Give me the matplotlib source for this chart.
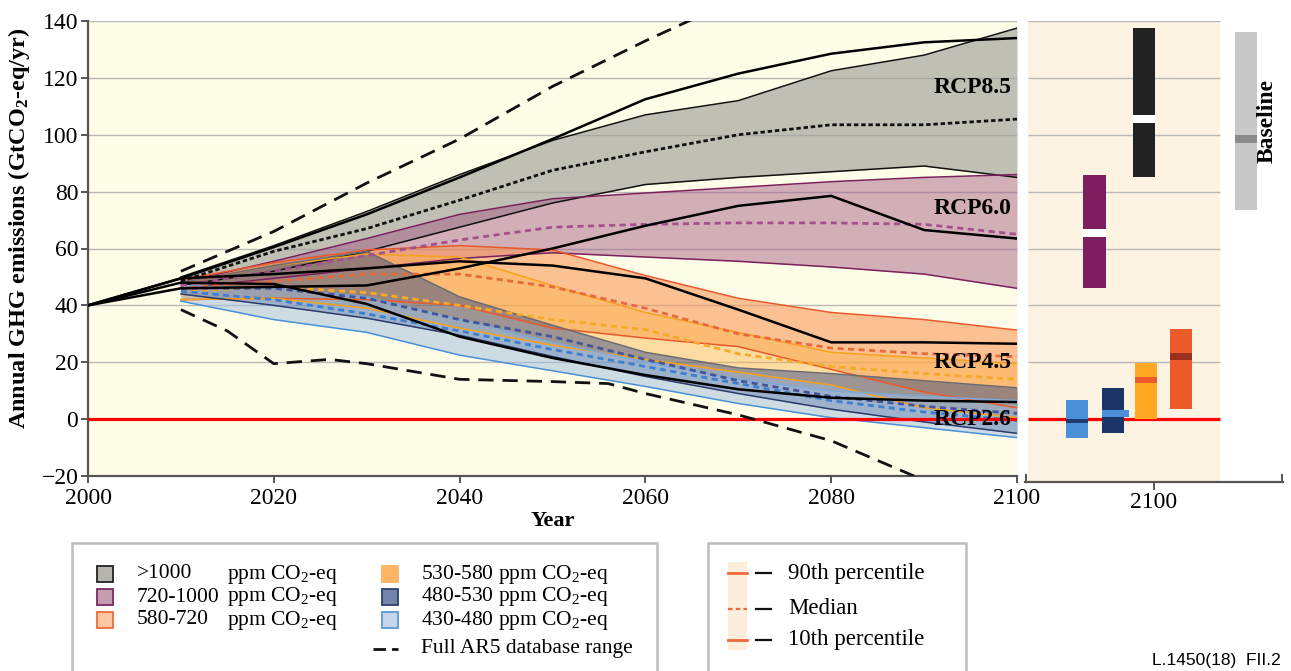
import matplotlib
matplotlib.use("Agg")
import matplotlib.pyplot as plt
from matplotlib.patches import Rectangle

plt.rcParams.update({
    "font.family": "Liberation Serif",
    "mathtext.fontset": "custom",
    "mathtext.rm": "Liberation Serif",
    "mathtext.it": "Liberation Serif:italic",
    "mathtext.bf": "Liberation Serif:bold",
})

# ---- scenario ranges (GtCO2-eq/yr), 10th / median / 90th percentile ----
YEARS = [2010, 2020, 2030, 2040, 2050, 2060, 2070, 2080, 2090, 2100]

HI_1000 = [50, 61, 73, 86, 98, 107, 112, 122.5, 128, 137.5]
MD_1000 = [48.5, 59, 67, 77, 87.5, 94, 100, 103.5, 103.5, 105.5]
LO_1000 = [47, 52, 59, 67.5, 76, 82.5, 85, 87, 89, 85]

HI_720 = [48, 55.5, 63.5, 72, 77.5, 79.5, 81.5, 83.5, 85, 86]
MD_720 = [47, 52, 57.5, 63, 67.5, 68.5, 69, 69, 68.5, 65]
LO_720 = [46, 49.5, 53, 56.5, 58.5, 57, 55.5, 53.5, 51, 46]

HI_580 = [49, 55, 59.5, 61, 59.5, 50.5, 42.5, 37.5, 35, 31.3]
MD_580 = [46, 48.5, 51, 51, 46.5, 39, 30, 25, 23, 22]
LO_580 = [42, 42.5, 42, 40, 32, 28.5, 25.5, 17.5, 9.5, 4]

HI_530 = [48, 54, 58, 57, 47, 37.5, 30.5, 23.5, 21.5, 19.5]
MD_530 = [45, 46.5, 44.5, 40, 35, 31.5, 23, 18.5, 16, 14]
LO_530 = [42, 42.5, 39, 32, 26, 21, 16.5, 12, 4, 0.5]

HI_480 = [48, 54, 59, 43, 33, 23.5, 18, 16, 13.5, 11]
MD_480 = [46, 46, 42.5, 35, 29, 21, 13.5, 8, 4.5, 2]
LO_480 = [44, 40, 35.5, 29.5, 22, 15, 9, 3.5, -1, -5]

HI_430 = [47, 46, 43, 35, 27, 20, 14, 10, 8, 6.5]
MD_430 = [45, 42, 37, 31, 24.5, 18.5, 12.5, 6.5, 2.5, -0.5]
LO_430 = [41.5, 35, 30.5, 22.5, 17, 11.5, 5.5, 0.5, -3, -6.5]

# ---- RCP pathways ----
RCP_YEARS = [2000, 2010, 2020, 2030, 2040, 2050, 2060, 2070, 2080, 2090, 2100]
RCP85 = [40, 49.5, 60.5, 72, 85, 98.5, 112.5, 121.5, 128.5, 132.5, 134]
RCP60 = [40, 46, 46.5, 47, 53, 60, 68, 75, 78.5, 66.5, 63.5]
RCP45 = [40, 49.5, 51, 53, 55.5, 54, 49.5, 38.5, 27, 27, 26.5]
RCP26 = [40, 48, 47.5, 40.5, 29, 21.5, 15.5, 10.5, 7.5, 6.5, 6]

# ---- full AR5 database range ----
AR5_HI_YEARS = [2010, 2020, 2030, 2040, 2050, 2060, 2070]
AR5_HI = [52, 66, 83, 98.5, 117, 133, 148]
AR5_LO_YEARS = [2010, 2015, 2020, 2026, 2030, 2040, 2050, 2056, 2060, 2070, 2080, 2090]
AR5_LO = [38.5, 31, 19.5, 21, 19.5, 14, 13.2, 12.5, 9, 1.5, -7.6, -21.5]

# ---- 2100 summary bars: (low, median, high) ----
BAR_430 = (-6.7, -0.7, 6.7)
BAR_480 = (-4.8, 2.0, 11.0)
BAR_530 = (0.0, 13.7, 19.7)
BAR_580 = (3.5, 22.0, 31.6)
BAR_720 = (46.0, 65.4, 85.8)
BAR_1000 = (85.0, 105.5, 137.5)
BAR_BASE = (73.5, 98.5, 136.0)

W, H = 1291, 671
fig = plt.figure(figsize=(W / 100, H / 100), dpi=100)
fig.patch.set_facecolor("white")


def px_box(x0, y0, x1, y1):
    return [x0 / W, 1 - y1 / H, (x1 - x0) / W, (y1 - y0) / H]


MAIN_BG = "#fefde8"
PANEL_BG = "#fdf3e3"
GRID = "#b9b9b9"
SPINE = "#555555"
RED = "#ff0000"
TICK_FS = 17

# ---------------- main time-series panel ----------------
ax = fig.add_axes(px_box(88, 21, 1017, 476))
ax.set_facecolor(MAIN_BG)
ax.set_xlim(2000, 2100)
ax.set_ylim(-20, 140)
ax.set_xticks(range(2000, 2101, 20))
ax.set_yticks(range(-20, 141, 20))
ax.set_yticklabels(["\u221220"] + [str(v) for v in range(0, 141, 20)])
for y in range(20, 141, 20):
    ax.axhline(y, color=GRID, lw=1.0, zorder=0.5)
for s in ["top", "right"]:
    ax.spines[s].set_visible(False)
for s in ["left", "bottom"]:
    ax.spines[s].set_color(SPINE)
    ax.spines[s].set_linewidth(1.6)
ax.tick_params(axis="both", labelsize=TICK_FS, color=SPINE, length=5, width=1.4)
ax.tick_params(axis="x", pad=4)
ax.tick_params(axis="y", pad=2)

bands = [
    # lo, md, hi, fill, alpha, lower edge, upper edge, median colour, median dashes
    (LO_1000, MD_1000, HI_1000, "#a5a59d", 0.70, "#111111", "#111111", "#111111", (1.6, 1.0)),
    (LO_720, MD_720, HI_720, "#a25a82", 0.48, "#7b1f5d", "#7b1f5d", "#a4508c", (2.2, 1.6)),
    (LO_580, MD_580, HI_580, "#f9995a", 0.60, "#e9592b", "#e9592b", "#e66a3c", (2.2, 1.6)),
    (LO_530, MD_530, HI_530, "#fdb44b", 0.45, "#f6a21c", "#f6a21c", "#f5aa2a", (2.2, 1.6)),
    (LO_480, MD_480, HI_480, "#3c4f86", 0.50, "#2b3b6b", "#6a6a72", "#44559a", (2.2, 1.6)),
    (LO_430, MD_430, HI_430, "#9dbde0", 0.50, "#4a90d9", "#7fa9d8", "#3f7fcf", (2.2, 1.6)),
]
for lo, md, hi, fc, a, elo, ehi, mc, dash in bands:
    ax.fill_between(YEARS, lo, hi, color=fc, alpha=a, lw=0, zorder=1)
    ax.plot(YEARS, lo, color=elo, lw=1.1, zorder=2)
    ax.plot(YEARS, hi, color=ehi, lw=1.1, zorder=2)
    ax.plot(YEARS, md, color=mc, lw=2.0, dashes=dash, zorder=2.2)

ax.axhline(0, color=RED, lw=2.3, zorder=3)

for series in (RCP85, RCP60, RCP45, RCP26):
    ax.plot(RCP_YEARS, series, color="black", lw=1.8, zorder=4)

ax.plot(AR5_HI_YEARS, AR5_HI, color="#111111", lw=2.0, dashes=(5.5, 3.2), zorder=4)
ax.plot(AR5_LO_YEARS, AR5_LO, color="#111111", lw=2.0, dashes=(5.5, 3.2), zorder=4)

for label, yv in [("RCP8.5", 116.5), ("RCP6.0", 74.2), ("RCP4.5", 20.0), ("RCP2.6", 0.0)]:
    ax.text(2099.4, yv, label, ha="right", va="center", fontsize=17,
            fontweight="bold", zorder=5)

ax.set_xlabel("Year", fontsize=16, fontweight="bold", labelpad=1)
ax.set_ylabel(r"Annual GHG emissions (GtCO$_\mathbf{2}$-eq/yr)", fontsize=17.5,
              fontweight="bold")
ax.yaxis.set_label_coords(-0.060, 0.545)

# ---------------- 2100 summary panel ----------------
rx = fig.add_axes(px_box(1025, 21, 1283, 482))
rx.set_xlim(2086.1, 2113.9)
rx.set_ylim(-22.1, 140)
rx.patch.set_visible(False)
for s in ["top", "right", "left"]:
    rx.spines[s].set_visible(False)
rx.spines["bottom"].set_color(SPINE)
rx.spines["bottom"].set_linewidth(1.6)
rx.set_yticks([])
rx.set_xticks([2100])
rx.set_xticks([2086.25, 2113.75], minor=True)
rx.tick_params(axis="x", which="major", labelsize=TICK_FS, color=SPINE, length=6,
               width=1.4, direction="out", pad=1)
rx.tick_params(axis="x", which="minor", color=SPINE, length=6, width=1.4,
               direction="in")

PANEL_X0, PANEL_X1 = 2086.4, 2107.1
rx.add_patch(Rectangle((PANEL_X0, -22.1), PANEL_X1 - PANEL_X0, 162.1,
                       facecolor=PANEL_BG, edgecolor="none", zorder=0))
rx.hlines(range(20, 141, 20), PANEL_X0, PANEL_X1, color=GRID, lw=1.0, zorder=0.5)
rx.hlines(0, PANEL_X0, PANEL_X1, color=RED, lw=2.3, zorder=1)

BAR_W = 2.4
summary = [
    (2091.7, BAR_430, "#4a90d9", "#1f3a6e", 1.5, 0.0),
    (2095.6, BAR_480, "#1c3568", "#4a90d9", 2.4, 0.5),
    (2099.1, BAR_530, "#fdaa22", "#ea5a2b", 2.3, 0.0),
    (2102.9, BAR_580, "#eb5b2a", "#9c2e1c", 2.6, 0.0),
    (2093.6, BAR_720, "#7d1f5e", "white", 2.6, 0.0),
    (2098.9, BAR_1000, "#222222", "white", 2.7, 0.0),
    (2109.9, BAR_BASE, "#c8c8c8", "#8a8a8a", 2.7, 0.0),
]
for xc, (lo, md, hi), fc, mc, mh, extra in summary:
    rx.bar(xc, hi - lo, bottom=lo, width=BAR_W, color=fc, zorder=2)
    rx.bar(xc + extra / 2, mh, bottom=md - mh / 2, width=BAR_W + extra, color=mc, zorder=3)

rx.text(2112.2, 105, "Baseline", rotation=90, ha="center", va="center",
        fontsize=17, fontweight="bold")

# ---------------- legends (figure pixel space) ----------------
ov = fig.add_axes([0, 0, 1, 1])
ov.set_xlim(0, W)
ov.set_ylim(H, 0)
ov.axis("off")
ov.patch.set_visible(False)

BOX = "#bdbdbd"
for x0, x1 in [(72, 657), (708, 966)]:
    ov.plot([x0, x0, x1, x1], [H + 5, 543, 543, H + 5], color=BOX, lw=1.8,
            solid_joinstyle="miter", clip_on=False)

LEG_FS = 15.5
ROW_Y = [574, 597, 620, 649]
left_items = [
    (">1000", "#b5b5ab", "#222222"),
    ("720-1000", "#c69cb0", "#7b2a60"),
    ("580-720", "#fcc7a2", "#ec6a3a"),
]
for (rng, fc, ec), y in zip(left_items, ROW_Y):
    ov.add_patch(Rectangle((97, y - 8), 16, 16, facecolor=fc, edgecolor=ec, lw=1.3))
    ov.text(137, y, rng, fontsize=LEG_FS, va="center", ha="left")
    ov.text(227, y, r"ppm CO$_2$-eq", fontsize=LEG_FS, va="center", ha="left")

right_items = [
    ("530-580", "#fbb563", "#fbb563"),
    ("480-530", "#7483a8", "#2c3f70"),
    ("430-480", "#c6d7ea", "#5b9ad6"),
]
for (rng, fc, ec), y in zip(right_items, ROW_Y):
    ov.add_patch(Rectangle((382, y - 8), 16, 16, facecolor=fc, edgecolor=ec, lw=1.3))
    ov.text(421, y, rng + r" ppm CO$_2$-eq", fontsize=LEG_FS, va="center", ha="left")
ov.plot([373, 398], [ROW_Y[3], ROW_Y[3]], color="#111111", lw=2.0, dashes=(4.5, 2.2))
ov.text(421, ROW_Y[3], "Full AR5 database range", fontsize=LEG_FS, va="center", ha="left")

ov.add_patch(Rectangle((728, 562), 19, 88, facecolor="#fdeedb", edgecolor="none"))
PCT_Y = [573, 609, 640]
for y, lbl, dashed in zip(PCT_Y, ["90th percentile", "Median", "10th percentile"],
                          [False, True, False]):
    if dashed:
        ov.plot([728, 747], [y, y], color="#ec6a3a", lw=1.6, dashes=(2, 1.5))
    else:
        ov.plot([728, 747], [y, y], color="#ec6a3a", lw=2.0)
    ov.plot([756, 771], [y, y], color="#111111", lw=1.6)
    ov.text(788, y, lbl, fontsize=16.5, va="center", ha="left")

ov.text(1281, 661, "L.1450(18)  FII.2", fontsize=12.5, family="Liberation Sans",
        va="center", ha="right")

fig.savefig("out.png", dpi=100, facecolor="white")
